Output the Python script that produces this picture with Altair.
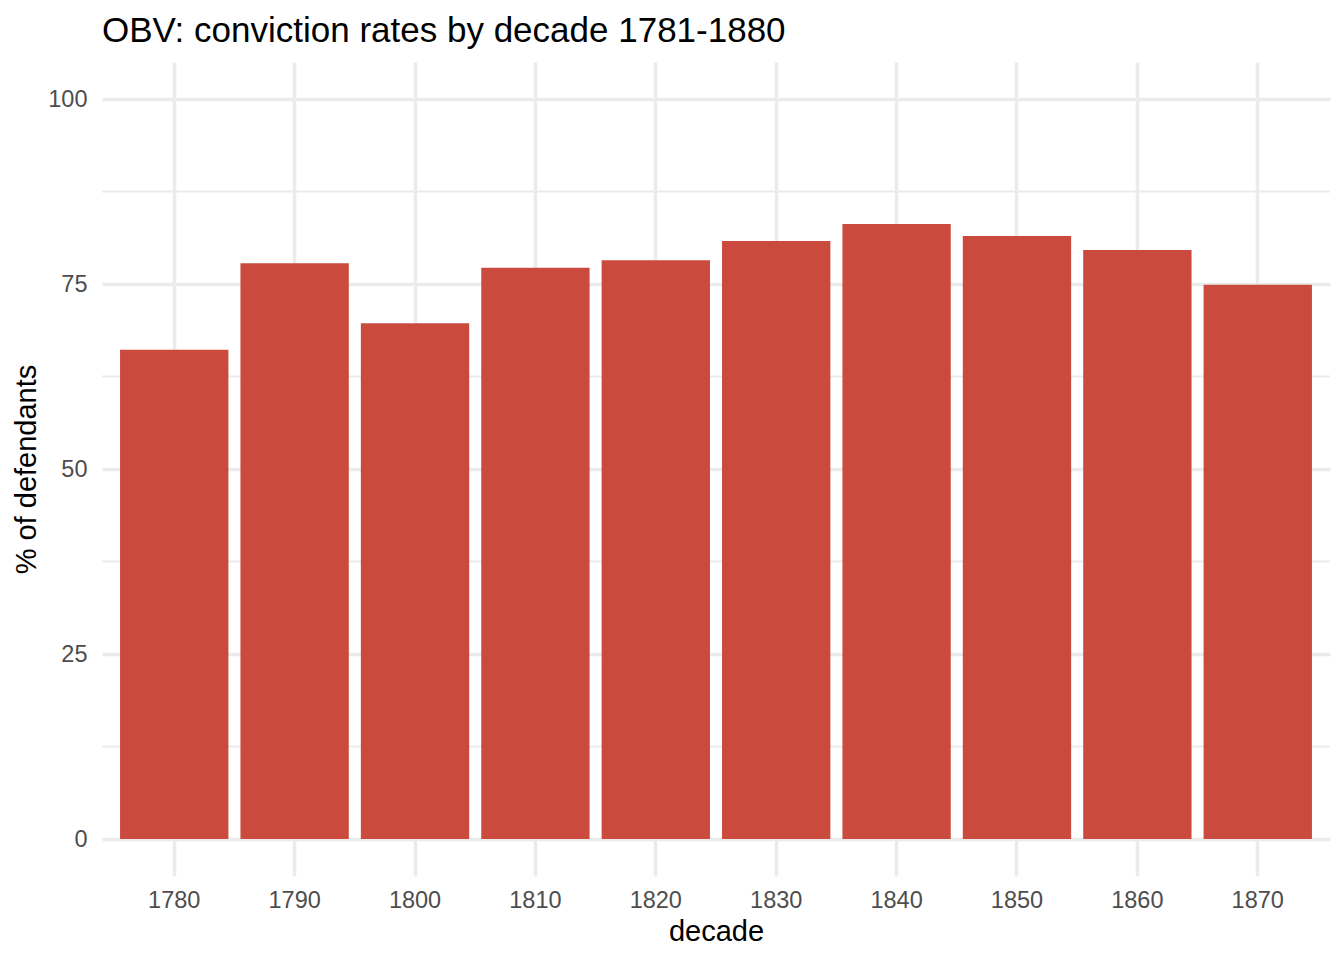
import altair as alt
import pandas as pd

decades = [1780, 1790, 1800, 1810, 1820, 1830, 1840, 1850, 1860, 1870]
rates = [66.1, 77.8, 69.7, 77.2, 78.2, 80.8, 83.1, 81.5, 79.6, 74.9]
major_breaks = [0, 25, 50, 75, 100]
minor_breaks = [12.5, 37.5, 62.5, 87.5]

bars_df = pd.DataFrame({"decade": decades, "pct": rates})
minor_df = pd.DataFrame({"v": minor_breaks})

FONT = "Liberation Sans"
GRID = "#EBEBEB"

yscale = alt.Scale(domain=[-5, 105], nice=False, zero=False)
xscale = alt.Scale(paddingInner=0.1, paddingOuter=0.15)

minor = alt.Chart(minor_df).mark_rule(color=GRID, strokeWidth=1.8).encode(
    y=alt.Y("v:Q", scale=yscale)
)

bars = alt.Chart(bars_df).mark_bar(color="#CA4B3E").encode(
    x=alt.X(
        "decade:O",
        scale=xscale,
        axis=alt.Axis(
            title="decade",
            labelAngle=0,
            grid=True,
            gridColor=GRID,
            gridWidth=3.5,
            bandPosition=0.5,
            domain=False,
            ticks=False,
            tickSize=0,
            labelFont=FONT,
            labelFontSize=23.5,
            labelColor="#4D4D4D",
            labelBaseline="alphabetic",
            labelPadding=31,
            titleFont=FONT,
            titleFontSize=29,
            titleFontWeight="normal",
            titleColor="#000000",
            titleBaseline="alphabetic",
            titleY=64,
        ),
    ),
    y=alt.Y(
        "pct:Q",
        scale=yscale,
        axis=alt.Axis(
            title="% of defendants",
            values=major_breaks,
            grid=True,
            gridColor=GRID,
            gridWidth=3.5,
            domain=False,
            ticks=False,
            tickSize=0,
            labelFont=FONT,
            labelFontSize=23.5,
            labelColor="#4D4D4D",
            labelPadding=15,
            titleFont=FONT,
            titleFontSize=29,
            titleFontWeight="normal",
            titleColor="#000000",
            titleBaseline="alphabetic",
            titleAngle=270,
            titleX=-67,
            titleY=407,
        ),
    ),
    y2=alt.datum(0),
)

chart = (
    alt.layer(minor, bars)
    .properties(
        width=1228,
        height=814,
        autosize=alt.AutoSizeParams(type="none"),
        padding={"left": 94, "top": 54, "right": 6, "bottom": 76},
        title=alt.TitleParams(
            "OBV: conviction rates by decade 1781-1880",
            anchor="start",
            frame="group",
            font=FONT,
            fontSize=35,
            fontWeight="normal",
            color="#000000",
            baseline="alphabetic",
            offset=23,
            dy=38,
        ),
        background="white",
    )
    .configure_view(strokeWidth=0)
)

chart.save("out.html", embed_options={"renderer": "svg", "actions": False})
